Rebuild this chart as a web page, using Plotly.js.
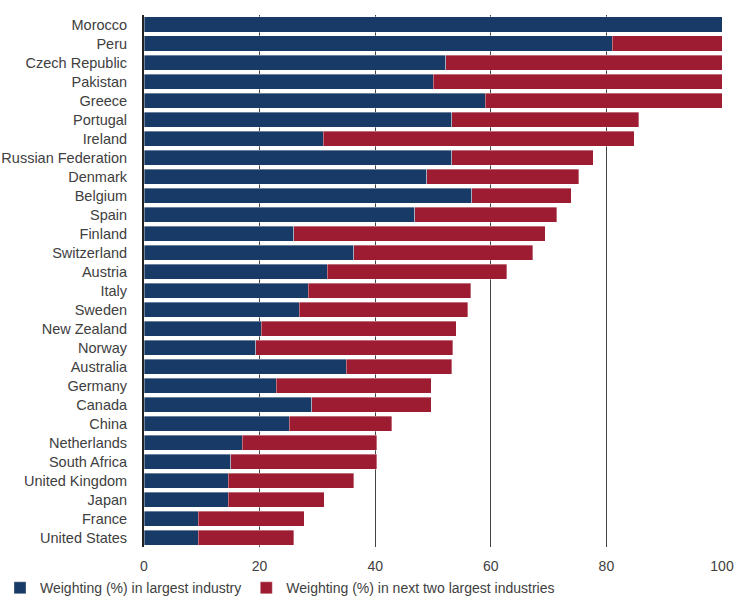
<!DOCTYPE html>
<html>
<head>
<meta charset="utf-8">
<script src="https://cdn.plot.ly/plotly-3.0.1.min.js"></script>
<style>html,body{margin:0;padding:0;background:#fff;}#chart{width:739px;height:599px;}</style>
</head>
<body>
<div id="chart"></div>
<script>
const countries = ["Morocco","Peru","Czech Republic","Pakistan","Greece","Portugal","Ireland","Russian Federation","Denmark","Belgium","Spain","Finland","Switzerland","Austria","Italy","Sweden","New Zealand","Norway","Australia","Germany","Canada","China","Netherlands","South Africa","United Kingdom","Japan","France","United States"];
const largestIndustry = [100, 81, 52.2, 50, 59, 53.2, 31, 53.2, 48.9, 56.7, 46.8, 25.9, 36.3, 31.7, 28.4, 26.9, 20.3, 19.3, 35, 22.9, 29, 25.1, 17, 15, 14.6, 14.6, 9.4, 9.4];
const nextTwoIndustries = [0, 19, 47.8, 50, 41, 32.4, 53.8, 24.5, 26.3, 17.2, 24.6, 43.5, 31.0, 31.1, 28.1, 29.1, 33.7, 34.1, 18.2, 26.8, 20.7, 17.8, 23.3, 25.3, 21.7, 16.6, 18.3, 16.5];
const xTicks = [0, 20, 40, 60, 80, 100];

const fam = "Liberation Sans, Arial, sans-serif";
const font = {family: fam, size: 14, color: "#404040"};

const traces = [
  {type: "bar", orientation: "h", y: countries, x: largestIndustry, name: "Weighting (%) in largest industry",
   marker: {color: "#183a66", line: {color: "rgba(255,255,255,0.6)", width: 0.6}}},
  {type: "bar", orientation: "h", y: countries, x: nextTwoIndustries, name: "Weighting (%) in next two largest industries",
   marker: {color: "#9d1c31", line: {color: "rgba(255,255,255,0.6)", width: 0.6}}}
];

const layout = {
  width: 739, height: 599,
  margin: {l: 144, r: 17, t: 15, b: 52},
  barmode: "stack",
  bargap: 0.21,
  paper_bgcolor: "#fff", plot_bgcolor: "#fff",
  font: font,
  showlegend: true,
  legend: {orientation: "h", xref: "container", yref: "container", x: 0, y: 0.018, xanchor: "left", yanchor: "middle",
           font: font, itemwidth: 30, traceorder: "normal"},
  xaxis: {range: [0, 100], tickvals: xTicks, ticktext: xTicks.map(String), showgrid: true, gridcolor: "#444", gridwidth: 1,
          zeroline: false, showline: false, ticks: "outside", ticklen: 6, tickcolor: "rgba(0,0,0,0)", tickfont: font, fixedrange: true},
  yaxis: {type: "category", autorange: "reversed", showgrid: false, zeroline: false, showline: true, linecolor: "#222", linewidth: 2,
          ticks: "outside", ticklen: 12, tickcolor: "rgba(0,0,0,0)", tickfont: {family: fam, size: 14.5, color: "#404040"}, fixedrange: true}
};

Plotly.newPlot("chart", traces, layout, {displayModeBar: false, staticPlot: true});
</script>
</body>
</html>
